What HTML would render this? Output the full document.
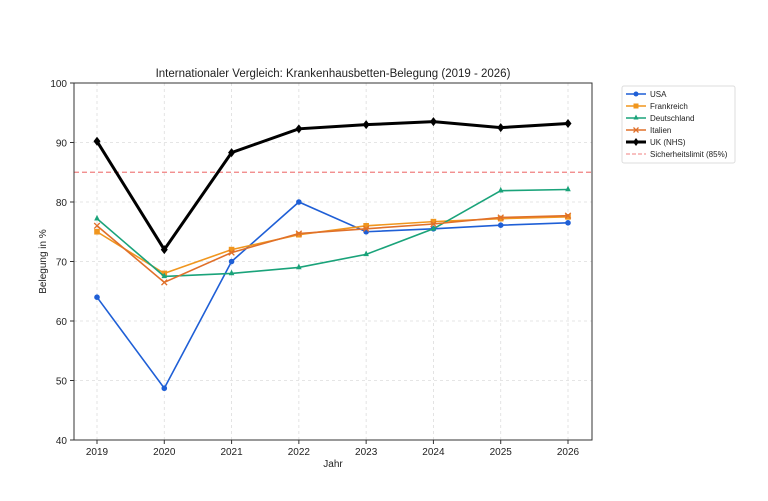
<!DOCTYPE html><html><head><meta charset="utf-8"><style>
html,body{margin:0;padding:0;background:#fff}
svg{display:block;font-family:"Liberation Sans",sans-serif}
</style></head><body>
<svg id="s" width="768" height="501" xmlns="http://www.w3.org/2000/svg"></svg>
<script>
const s=document.getElementById('s');
const L=74,R=592,T=83,B=440,x0=97,dx=(568-97)/7;
const X=i=>x0+i*dx, Y=v=>B-(v-40)*(B-T)/60;
let h='';
for(let i=0;i<8;i++){h+=`<line x1="${X(i)}" y1="${T}" x2="${X(i)}" y2="${B}" stroke="#ddd" stroke-dasharray="3,3" stroke-width="0.8"/>`;
h+=`<line x1="${X(i)}" y1="${B}" x2="${X(i)}" y2="${B+4}" stroke="#333"/><text x="${X(i)}" y="${B+15}" font-size="10" text-anchor="middle" fill="#222">${2019+i}</text>`;}
for(let v=40;v<=100;v+=10){h+=`<line x1="${L}" y1="${Y(v)}" x2="${R}" y2="${Y(v)}" stroke="#ddd" stroke-dasharray="3,3" stroke-width="0.8"/>`;
h+=`<line x1="${L-4}" y1="${Y(v)}" x2="${L}" y2="${Y(v)}" stroke="#333"/><text x="${L-7}" y="${Y(v)+4}" font-size="10" text-anchor="end" fill="#222">${v}</text>`;}
h+=`<line x1="${L}" y1="${Y(85)}" x2="${R}" y2="${Y(85)}" stroke="#f08080" stroke-dasharray="5,3" stroke-width="1.2"/>`;
const S=[
["#1f5fd6",[64,48.7,70,80,75,75.5,76.1,76.5],'o',1.6],
["#f0961e",[75,68,72,74.5,76,76.7,77.2,77.5],'s',1.6],
["#1aa37a",[77.2,67.5,68,69,71.2,75.5,81.9,82.1],'^',1.6],
["#e0702a",[76,66.5,71.5,74.7,75.5,76.3,77.4,77.7],'x',1.6],
["#000",[90.2,72,88.3,92.3,93,93.5,92.5,93.2],'d',3]];
function mk(c,m,x,y,r){
 if(m=='o')return `<circle cx="${x}" cy="${y}" r="${r}" fill="${c}"/>`;
 if(m=='s')return `<rect x="${x-r}" y="${y-r}" width="${2*r}" height="${2*r}" fill="${c}"/>`;
 if(m=='^')return `<polygon points="${x},${y-r-1} ${x-r},${y+r-1} ${x+r},${y+r-1}" fill="${c}"/>`;
 if(m=='x')return `<path d="M${x-r} ${y-r}L${x+r} ${y+r}M${x-r} ${y+r}L${x+r} ${y-r}" stroke="${c}" stroke-width="1.3"/>`;
 return `<polygon points="${x},${y-r-1} ${x+r},${y} ${x},${y+r+1} ${x-r},${y}" fill="${c}"/>`;}
for(const [c,d,m,w] of S){h+=`<polyline fill="none" stroke="${c}" stroke-width="${w}" points="${d.map((v,i)=>X(i)+','+Y(v)).join(' ')}"/>`;
 d.forEach((v,i)=>h+=mk(c,m,X(i),Y(v),m=='d'?3.5:2.8));}
h+=`<rect x="${L}" y="${T}" width="${R-L}" height="${B-T}" fill="none" stroke="#333" stroke-width="1"/>`;
h+=`<text x="${(L+R)/2}" y="77" font-size="11.5" text-anchor="middle" fill="#222">Internationaler Vergleich: Krankenhausbetten-Belegung (2019 - 2026)</text>`;
h+=`<text x="${(L+R)/2}" y="467" font-size="10" text-anchor="middle" fill="#222">Jahr</text>`;
h+=`<text transform="translate(46,${(T+B)/2}) rotate(-90)" font-size="10" text-anchor="middle" fill="#222">Belegung in %</text>`;
h+=`<rect x="622" y="86" width="113" height="77" fill="#fff" stroke="#ddd" rx="2"/>`;
const lg=[["#1f5fd6","USA",'o',1.6],["#f0961e","Frankreich",'s',1.6],["#1aa37a","Deutschland",'^',1.6],["#e0702a","Italien",'x',1.6],["#000","UK (NHS)",'d',3]];
lg.forEach(([c,t,m,w],i)=>{const y=94+i*12;h+=`<line x1="626" y1="${y}" x2="646" y2="${y}" stroke="${c}" stroke-width="${w}"/>`+mk(c,m,636,y,m=='d'?3:2.5)+`<text x="650" y="${y+3}" font-size="8" fill="#222">${t}</text>`;});
h+=`<line x1="626" y1="154" x2="646" y2="154" stroke="#f08080" stroke-dasharray="4,2"/><text x="650" y="157" font-size="8" fill="#222">Sicherheitslimit (85%)</text>`;
s.innerHTML=h;
</script></body></html>
